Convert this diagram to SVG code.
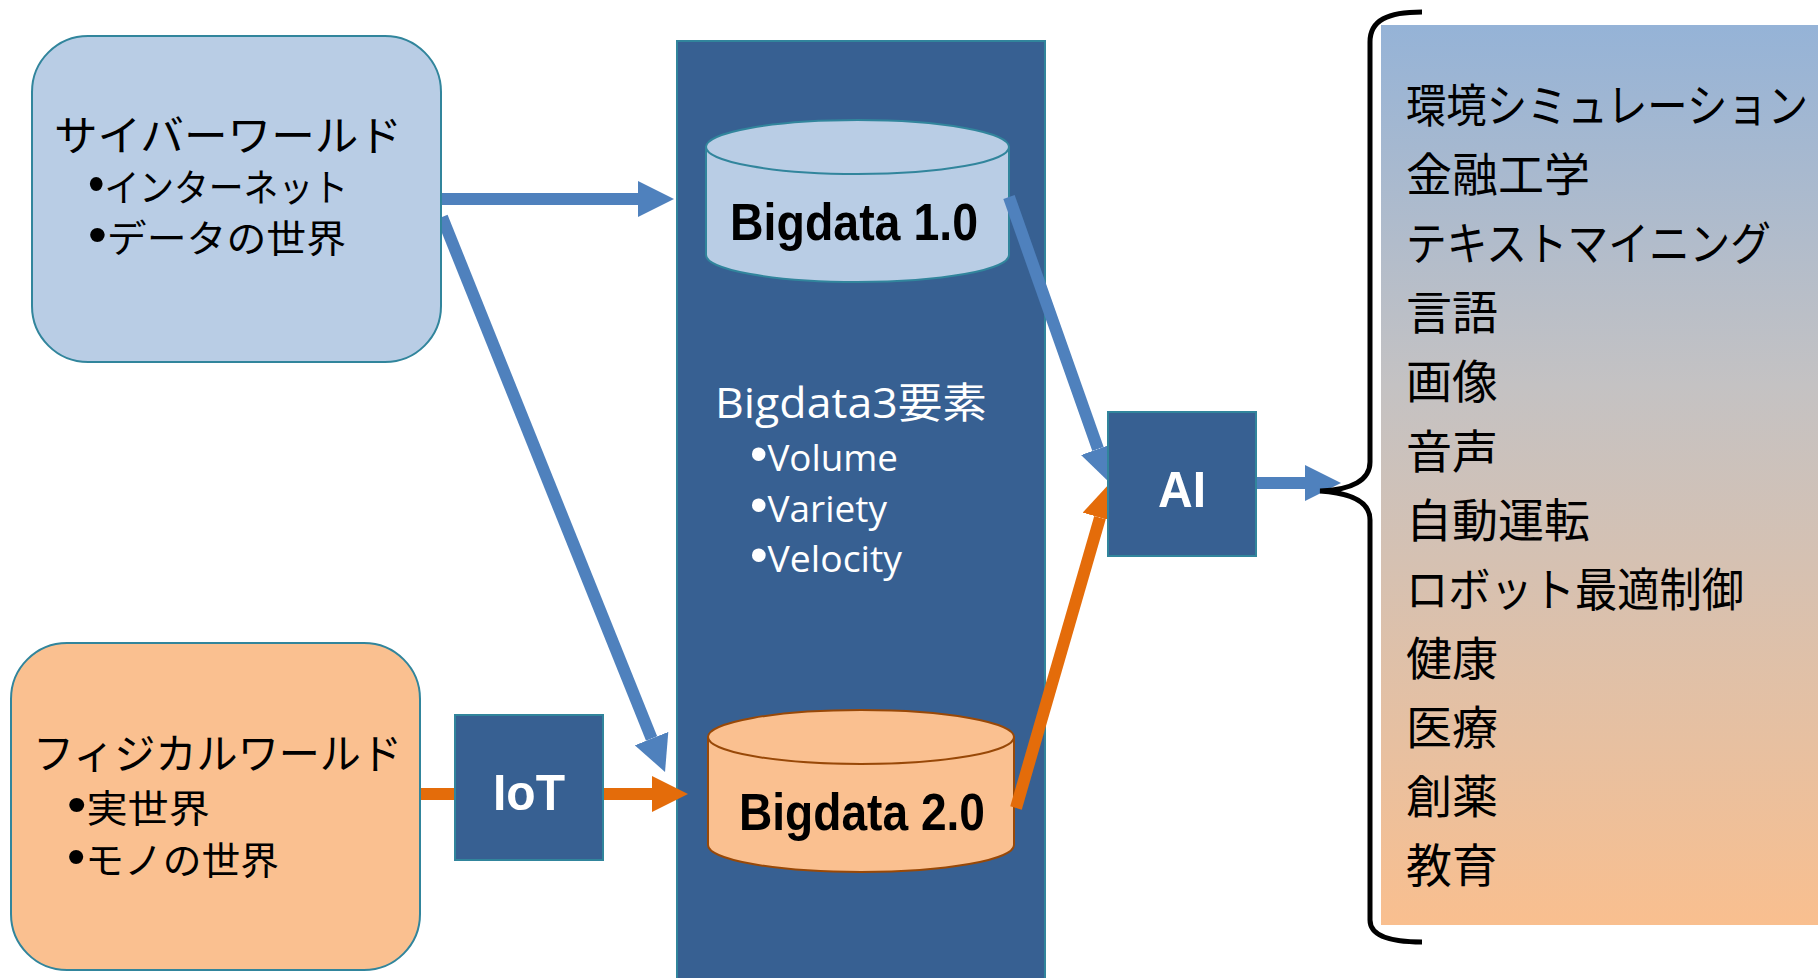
<svg xmlns="http://www.w3.org/2000/svg" width="1818" height="978" viewBox="0 0 1818 978">
<defs>
<linearGradient id="panelGrad" x1="0" y1="0" x2="0" y2="1">
<stop offset="0" stop-color="#95B3D7"/>
<stop offset="0.4" stop-color="#C4C2C3"/>
<stop offset="1" stop-color="#F9BF8F"/>
</linearGradient>
<marker id="headBlue" markerUnits="userSpaceOnUse" markerWidth="36" markerHeight="36" viewBox="0 0 36 36" refX="0" refY="18" orient="auto">
<path d="M0,0 L36,18 L0,36 Z" fill="#4F81BD"/>
</marker>
<marker id="headOrange" markerUnits="userSpaceOnUse" markerWidth="36" markerHeight="36" viewBox="0 0 36 36" refX="0" refY="18" orient="auto">
<path d="M0,0 L36,18 L0,36 Z" fill="#E46C0A"/>
</marker>
</defs>
<style>
.jp{font-family:"Noto Sans CJK JP","Noto Sans",sans-serif;fill:#000}
.wt{font-family:"Open Sans","Noto Sans CJK JP",sans-serif;fill:#fff}
.bold{font-family:"Liberation Sans","Noto Sans CJK JP",sans-serif;font-weight:bold}
.list{font-family:"Noto Sans CJK JP",sans-serif;font-size:46px;fill:#000}
.bul{font-family:"Liberation Sans",sans-serif;font-size:1.35em}
.blue{stroke:#4F81BD;stroke-width:12;fill:none}
.orange{stroke:#E46C0A;stroke-width:12;fill:none}
.dark{fill:#376092;stroke:#31859C;stroke-width:2}
</style>

<g id="panel">
<rect x="1381" y="25" width="437" height="900" fill="url(#panelGrad)"/>
<text class="list" x="1406" y="122" textLength="402" lengthAdjust="spacingAndGlyphs">環境シミュレーション</text>
<text class="list" x="1406" y="191">金融工学</text>
<text class="list" x="1406" y="260" textLength="365" lengthAdjust="spacingAndGlyphs">テキストマイニング</text>
<text class="list" x="1406" y="329">言語</text>
<text class="list" x="1406" y="398">画像</text>
<text class="list" x="1406" y="468">音声</text>
<text class="list" x="1406" y="537">自動運転</text>
<text class="list" x="1406" y="606" textLength="338" lengthAdjust="spacingAndGlyphs">ロボット最適制御</text>
<text class="list" x="1406" y="675">健康</text>
<text class="list" x="1406" y="744">医療</text>
<text class="list" x="1406" y="813">創薬</text>
<text class="list" x="1406" y="882">教育</text>
</g>

<g id="bigdata-column">
<rect class="dark" x="677" y="41" width="368" height="950"/>
<text class="wt" x="715" y="418" font-size="42" textLength="272" lengthAdjust="spacingAndGlyphs">Bigdata3要素</text>
<text class="wt" x="750" y="471" font-size="37" textLength="148" lengthAdjust="spacingAndGlyphs"><tspan class="bul">•</tspan>Volume</text>
<text class="wt" x="750" y="522" font-size="37" textLength="137" lengthAdjust="spacingAndGlyphs"><tspan class="bul">•</tspan>Variety</text>
<text class="wt" x="750" y="572" font-size="37" textLength="152" lengthAdjust="spacingAndGlyphs"><tspan class="bul">•</tspan>Velocity</text>
</g>

<g id="bigdata1">
<path d="M706,147 V255 A151.5,27 0 0 0 1009,255 V147 Z" fill="#B9CDE5" stroke="#31859C" stroke-width="2"/>
<ellipse cx="857.5" cy="147" rx="151.5" ry="27" fill="#B9CDE5" stroke="#31859C" stroke-width="2"/>
<text class="bold" x="730" y="240" font-size="52" fill="#000" textLength="248" lengthAdjust="spacingAndGlyphs">Bigdata 1.0</text>
</g>

<g id="bigdata2">
<path d="M708,737 V845 A153,27 0 0 0 1014,845 V737 Z" fill="#FAC090" stroke="#984807" stroke-width="2"/>
<ellipse cx="861" cy="737" rx="153" ry="27" fill="#FAC090" stroke="#984807" stroke-width="2"/>
<text class="bold" x="739" y="830" font-size="52" fill="#000" textLength="246" lengthAdjust="spacingAndGlyphs">Bigdata 2.0</text>
</g>

<g id="connectors">
<line class="blue" x1="441" y1="199" x2="638" y2="199" marker-end="url(#headBlue)"/>
<line class="blue" x1="442" y1="217" x2="651.6" y2="738.6" marker-end="url(#headBlue)"/>
<line class="orange" x1="420" y1="794" x2="455" y2="794"/>
<line class="orange" x1="603" y1="794" x2="652" y2="794" marker-end="url(#headOrange)"/>
<line class="blue" x1="1009" y1="197" x2="1098" y2="449.1" marker-end="url(#headBlue)"/>
<line class="orange" x1="1016" y1="808" x2="1100" y2="517.6" marker-end="url(#headOrange)"/>
<line class="blue" x1="1256" y1="483" x2="1305" y2="483" marker-end="url(#headBlue)"/>
</g>

<g id="ai">
<rect class="dark" x="1108" y="412" width="148" height="144"/>
<text class="bold" x="1182" y="507" font-size="50" fill="#fff" text-anchor="middle" textLength="48" lengthAdjust="spacingAndGlyphs">AI</text>
</g>

<g id="iot">
<rect class="dark" x="455" y="715" width="148" height="145"/>
<text class="bold" x="529" y="810" font-size="50" fill="#fff" text-anchor="middle" textLength="72" lengthAdjust="spacingAndGlyphs">IoT</text>
</g>

<g id="cyber-world">
<rect x="32" y="36" width="409" height="326" rx="56" ry="56" fill="#B9CDE5" stroke="#31859C" stroke-width="2"/>
<text class="jp" x="54" y="151" font-size="42" textLength="348" lengthAdjust="spacingAndGlyphs">サイバーワールド</text>
<text class="jp" x="88" y="201" font-size="38" textLength="260" lengthAdjust="spacingAndGlyphs"><tspan class="bul">•</tspan>インターネット</text>
<text class="jp" x="88" y="252" font-size="38" textLength="258" lengthAdjust="spacingAndGlyphs"><tspan class="bul">•</tspan>データの世界</text>
</g>

<g id="physical-world">
<rect x="11" y="643" width="409" height="327" rx="56" ry="56" fill="#FAC090" stroke="#31859C" stroke-width="2"/>
<text class="jp" x="33" y="769" font-size="42" textLength="369" lengthAdjust="spacingAndGlyphs">フィジカルワールド</text>
<text class="jp" x="67" y="822" font-size="38" textLength="143" lengthAdjust="spacingAndGlyphs"><tspan class="bul">•</tspan>実世界</text>
<text class="jp" x="67" y="874" font-size="38" textLength="212" lengthAdjust="spacingAndGlyphs"><tspan class="bul">•</tspan>モノの世界</text>
</g>

<g id="brace">
<path d="M1422,12 C1388,12 1370,20 1370,42 V462 C1370,480 1352,490 1320,491 C1352,493 1370,502 1370,520 V920 C1370,935 1388,942 1422,942" fill="none" stroke="#000" stroke-width="5"/>
</g>
</svg>
